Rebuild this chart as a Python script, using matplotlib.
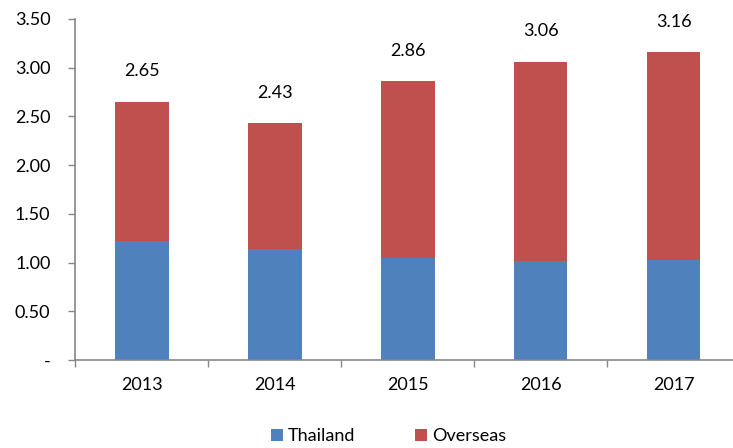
import matplotlib
matplotlib.use("Agg")
import matplotlib.pyplot as plt
from matplotlib.ticker import FuncFormatter

years = ["2013", "2014", "2015", "2016", "2017"]
thailand = [1.22, 1.14, 1.05, 1.02, 1.03]
totals = [2.65, 2.43, 2.86, 3.06, 3.16]
overseas = [t - th for t, th in zip(totals, thailand)]

BLUE = "#4F81BD"
RED = "#C0504D"
AXIS = "#868686"

plt.rcParams["font.family"] = ["Lato", "DejaVu Sans"]

fig = plt.figure(figsize=(7.33, 4.48), dpi=100)
# plot area runs past the right edge, like the source image
ax = fig.add_axes([0.1030, 0.1964, 0.907, 0.7612])

x = list(range(len(years)))
ax.bar(x, thailand, width=0.40, color=BLUE, label="Thailand")
ax.bar(x, overseas, width=0.40, bottom=thailand, color=RED, label="Overseas")

for xi, t in zip(x, totals):
    ax.annotate(f"{t:.2f}", (xi, t), xytext=(0, 22), textcoords="offset points",
                ha="center", va="center", fontsize=13, color="black")

ax.set_xlim(-0.5, len(years) - 0.5)
ax.set_ylim(0, 3.5)
ax.set_yticks([0, 0.5, 1.0, 1.5, 2.0, 2.5, 3.0, 3.5])
ax.yaxis.set_major_formatter(FuncFormatter(lambda v, p: "-" if v == 0 else f"{v:.2f}"))

ax.set_xticks([i - 0.5 for i in range(len(years) + 1)])
ax.set_xticklabels([])
ax.set_xticks(x, minor=True)
ax.set_xticklabels(years, minor=True)
ax.tick_params(axis="x", which="major", direction="out", length=5, color=AXIS, width=1)
ax.tick_params(axis="x", which="minor", length=0, pad=12, labelsize=13)
ax.tick_params(axis="y", direction="out", length=5, color=AXIS, width=1, labelsize=13, pad=13)

for s in ("top", "right"):
    ax.spines[s].set_visible(False)
for s in ("left", "bottom"):
    ax.spines[s].set_color(AXIS)
    ax.spines[s].set_linewidth(1.2)

fig.legend(loc="center", bbox_to_anchor=(0.53, 0.026), ncol=2, frameon=False,
           fontsize=13, handlelength=0.65, handleheight=0.65, columnspacing=3.3,
           handletextpad=0.3)

fig.savefig("out.png", dpi=100)
